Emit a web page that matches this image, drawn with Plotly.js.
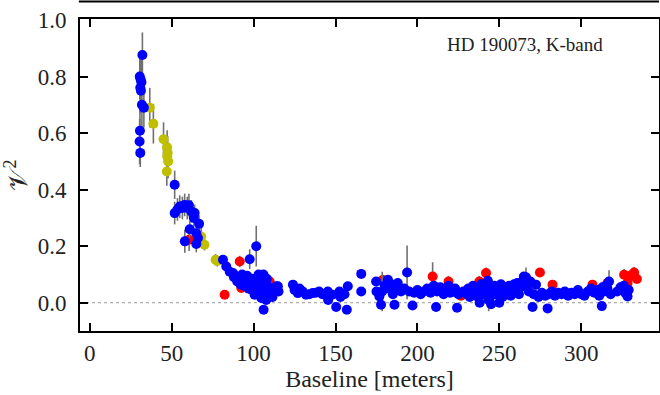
<!DOCTYPE html>
<html>
<head>
<meta charset="utf-8">
<script src="https://cdn.plot.ly/plotly-3.0.1.min.js"></script>
<style>html,body{margin:0;padding:0;background:#fff;}#chart{width:660px;height:395px;}</style>
</head>
<body>
<div id="chart"></div>
<script>
// ---- Data (baseline in meters, squared visibility) ----
const blueX = [
  30.5,31.0,31.5,30.8,31.2,32.1,31.8,33.0,30.6,30.4,30.8,
  51.8,51.8,54.9,57.9,59.5,62.0,64.0,66.7,61.0,65.0,66.0,65.0,58.0,56.5,60.5,63.5,53.5,
  81.3,83.3,85.4,87.4,89.4,91.5,94.5,97.6,101.6,96.5,98.6,100.6,102.6,104.7,106.7,107.7,108.7,105.7,102.6,100.6,104.7,107.7,106.1,109.8,113.8,
  88,90,92,94,95,97,99,101,103,105,93,96,99,103,106,108,104,107,109,110.5,111.5,
  114.8,115.2,124,125,127,128,130,132,134,136,138,140,142,145.3,145.5,148,150.4,152.4,153,155.5,157.5,156.9,
  165.7,165.7,174.8,175,176.8,177.8,178.5,180,182,183,184,185,186,187,188,190,
  192,193.7,195,197,198,200,202,204,206,208,210,211.4,212,214,216,217,219,220,222,223,224.2,225,228,
  230,231,232,233,234,235,236,237,238,239,240,241,242,243,244,245,246,247,248,249,250,251,252,253,254,255,256,257,258,259,260,261,262,263,264,265,266.3,267,268,269,270.3,271,272.4,274,276,278,279.5,
  238,243.5,245,250,
  280,282,284,286,288,290,292,294,296,298,300,302,304,306,308,310,311,312.6,313,314,315,316,317,318,322,324,326,327,328.3,329
];
const blueY = [
  0.80,0.79,0.78,0.76,0.75,0.876,0.70,0.69,0.608,0.57,0.53,
  0.417,0.317,0.340,0.346,0.335,0.323,0.317,0.279,0.260,0.246,0.229,0.208,0.217,0.335,0.345,0.30,0.33,
  0.152,0.128,0.110,0.105,0.093,0.081,0.081,0.154,0.200,0.070,0.058,0.062,0.075,0.081,0.087,0.064,0.046,0.034,0.034,0.028,0.017,0.010,-0.025,0.028,0.058,
  0.09,0.075,0.065,0.06,0.07,0.05,0.045,0.05,0.045,0.055,0.10,0.095,0.085,0.10,0.10,0.085,0.065,0.04,0.055,0.04,0.02,
  0.058,0.04,0.064,0.045,0.034,0.05,0.04,0.028,0.03,0.034,0.035,0.04,0.03,0.04,0.01,0.028,-0.015,0.04,0.02,0.03,0.058,-0.025,
  0.102,0.04,0.075,0.04,0.022,-0.007,0.04,0.06,0.081,0.05,0.065,0.03,-0.007,0.055,0.07,0.04,
  0.05,0.107,0.04,-0.01,0.035,0.045,0.03,0.04,0.05,0.035,0.06,-0.015,0.04,0.055,0.03,0.045,0.06,0.035,0.04,0.05,-0.018,0.03,0.04,
  0.03,0.05,0.02,0.04,0.06,0.035,0.05,0.02,0.045,0.065,0.03,0.05,0.04,0.078,0.055,0.025,0.045,0.06,0.03,0.05,0.04,0.065,0.02,0.045,0.055,0.035,0.06,0.025,0.05,0.065,0.04,0.07,0.03,0.055,0.075,0.093,0.09,0.06,0.04,0.075,-0.015,0.03,0.064,0.02,0.035,0.025,-0.02,
  0.0,0.01,-0.005,0.0,
  0.03,0.04,0.025,0.035,0.03,0.04,0.025,0.035,0.03,0.045,0.03,0.025,0.04,0.05,0.035,0.045,0.025,-0.012,0.055,0.04,0.06,0.05,0.075,0.03,0.04,0.055,0.06,0.034,0.022,0.045
];
const blueErr = [
  0.08,0.09,0.08,0.09,0.08,0.08,0.10,0.07,0.09,0.08,0.05,
  0.05,0.04,0.04,0.04,0.04,0.04,0.03,0.03,0.03,0.03,0.03,0.03,0.04,0.04,0.04,0.03,0.04,
  0.01,0.01,0.01,0.01,0.01,0.01,0.01,0.035,0.072,0.01,0.01,0.01,0.01,0.01,0.015,0.015,0.015,0.015,0.015,0.015,0.015,0.015,0.015,0.015,0.015,
  0.015,0.015,0.015,0.015,0.015,0.015,0.015,0.015,0.015,0.015,0.015,0.015,0.015,0.015,0.015,0.015,0.015,0.015,0.015,0.015,0.015,
  0.015,0.015,0.015,0.015,0.015,0.015,0.015,0.015,0.015,0.015,0.015,0.015,0.015,0.015,0.015,0.015,0.015,0.015,0.015,0.015,0.015,0.015,
  0.015,0.015,0.015,0.015,0.015,0.015,0.07,0.015,0.015,0.015,0.015,0.015,0.015,0.015,0.015,0.015,
  0.015,0.095,0.015,0.015,0.015,0.015,0.015,0.015,0.015,0.015,0.015,0.015,0.015,0.015,0.015,0.015,0.015,0.015,0.015,0.015,0.015,0.015,0.015,
  0.015,0.015,0.015,0.015,0.015,0.015,0.015,0.015,0.015,0.015,0.015,0.015,0.015,0.015,0.015,0.015,0.015,0.015,0.015,0.015,0.015,0.015,0.015,0.015,0.015,0.015,0.015,0.015,0.015,0.015,0.015,0.015,0.015,0.015,0.015,0.015,0.035,0.015,0.015,0.015,0.015,0.015,0.015,0.015,0.015,0.015,0.015,
  0.015,0.04,0.015,0.015,
  0.015,0.015,0.015,0.015,0.015,0.015,0.015,0.015,0.015,0.015,0.015,0.015,0.015,0.015,0.015,0.015,0.015,0.015,0.015,0.015,0.015,0.015,0.04,0.015,0.015,0.015,0.015,0.015,0.015,0.015
];

const redX = [60.6,82.3,91.5,92.5,109.8,178.8,209.3,219,226.6,237.8,241.9,274.8,282.5,306.9,316,326.2,328.3,330,332.3,334];
const redY = [0.223,0.028,0.146,0.052,0.075,0.08,0.093,0.075,0.025,0.075,0.105,0.107,0.064,0.064,0.07,0.099,0.07,0.095,0.107,0.084];
const redErr = [0.04,0.01,0.02,0.015,0.015,0.02,0.05,0.02,0.015,0.02,0.02,0.015,0.015,0.015,0.02,0.02,0.015,0.02,0.02,0.015];

const yellowX = [36.6,38.8,45.0,47.2,47.5,47.3,47.8,47.0,68.0,70.0,76.8,77.8];
const yellowY = [0.69,0.633,0.578,0.55,0.53,0.517,0.50,0.464,0.234,0.205,0.152,0.148];
const yellowErr = [0.07,0.07,0.06,0.06,0.06,0.06,0.06,0.05,0.03,0.02,0.02,0.02];

const xTicks = [0,50,100,150,200,250,300];
const yTicks = [0.0,0.2,0.4,0.6,0.8,1.0];
const yTickText = ['0.0','0.2','0.4','0.6','0.8','1.0'];
const labelText = 'HD 190073, K-band';

// ---- Traces ----
function mk(x, y, e, color) {
  return {
    type: 'scatter', mode: 'markers', x: x, y: y,
    marker: {color: color, size: 10, line: {width: 0}},
    error_y: {type: 'data', array: e, visible: true, color: '#707070', thickness: 1.6, width: 0},
    hoverinfo: 'skip', showlegend: false
  };
}
const traces = [
  mk(redX, redY, redErr, '#ff0000'),
  mk(yellowX, yellowY, yellowErr, '#bfbf00'),
  mk(blueX, blueY, blueErr, '#0000ff')
];

const serif = "'Liberation Serif', 'Times New Roman', serif";
const layout = {
  width: 660, height: 395,
  margin: {l: 80, r: 1, t: 19, b: 64},
  paper_bgcolor: '#fff', plot_bgcolor: '#fff',
  font: {family: serif, size: 23, color: '#000'},
  xaxis: {
    range: [-6, 347.5], tickvals: xTicks, ticktext: xTicks.map(String),
    showgrid: false, zeroline: false,
    showline: true, linecolor: '#000', linewidth: 2, mirror: 'ticks',
    ticks: 'inside', ticklen: 8, tickwidth: 2, tickcolor: '#000',
    tickfont: {family: serif, size: 23, color: '#222'},
    ticklabelstandoff: 0,
    title: {text: 'Baseline [meters]', font: {family: serif, size: 24, color: '#222'}, standoff: 6}
  },
  yaxis: {
    range: [-0.1, 1.0035], tickvals: yTicks, ticktext: yTickText,
    showgrid: false, zeroline: false,
    showline: true, linecolor: '#000', linewidth: 2, mirror: 'ticks',
    ticks: 'inside', ticklen: 8, tickwidth: 2, tickcolor: '#000',
    tickfont: {family: serif, size: 23, color: '#222'},
    ticklabelstandoff: 7,
    title: {text: '𝒱<sup>2</sup>', font: {family: serif, size: 26, color: '#222'}, standoff: 12}
  },
  shapes: [
    {type: 'line', xref: 'paper', yref: 'y', x0: 0, x1: 1, y0: 0, y1: 0,
     line: {color: '#999', width: 1, dash: 'dot'}, layer: 'below'},
    {type: 'line', xref: 'paper', yref: 'paper', x0: -0.002, x1: 1, y0: 1.056, y1: 1.056,
     line: {color: '#000', width: 2}}
  ],
  annotations: [
    {text: labelText, xref: 'paper', yref: 'paper', x: 0.769, y: 0.917,
     xanchor: 'center', yanchor: 'middle', showarrow: false,
     font: {family: serif, size: 19, color: '#222'}}
  ]
};

Plotly.newPlot('chart', traces, layout, {staticPlot: true, displayModeBar: false});
</script>
</body>
</html>
